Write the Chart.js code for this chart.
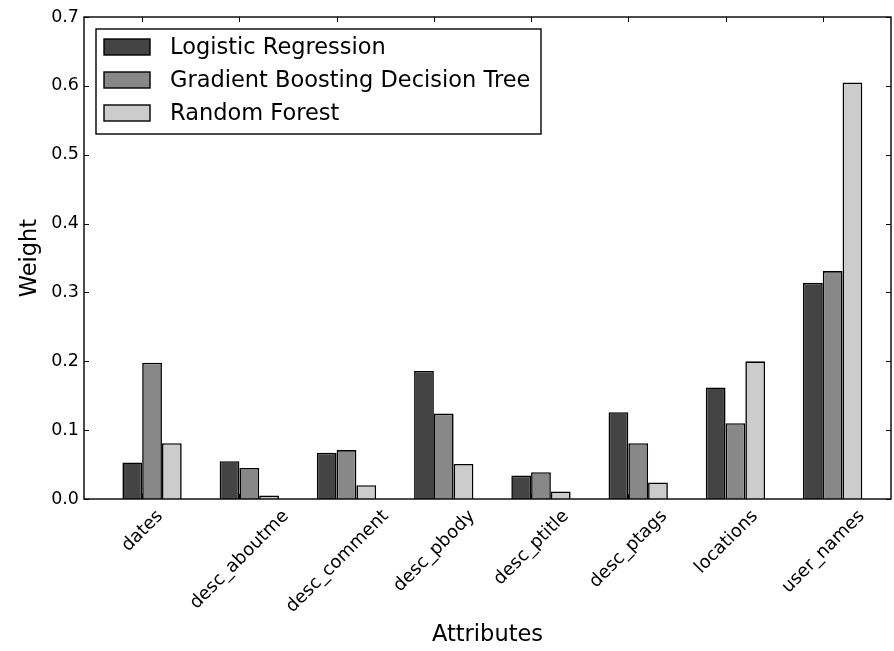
<!DOCTYPE html>
<html>
<head>
<meta charset="utf-8">
<script src="https://cdn.jsdelivr.net/npm/chart.js@4.4.1/dist/chart.umd.min.js"></script>
<style>
  body { margin: 0; background: #fff; }
  #wrap { width: 894px; height: 651px; }
</style>
</head>
<body>
<div id="wrap"><canvas id="graficoPesos"></canvas></div>
<script>
const categories = ['dates', 'desc_aboutme', 'desc_comment', 'desc_pbody', 'desc_ptitle', 'desc_ptags', 'locations', 'user_names'];
const logisticRegression = [0.053, 0.055, 0.067, 0.186, 0.034, 0.126, 0.162, 0.314];
const gradientBoosting = [0.198, 0.045, 0.071, 0.124, 0.039, 0.081, 0.110, 0.331];
const randomForest = [0.081, 0.005, 0.020, 0.051, 0.011, 0.024, 0.200, 0.605];
const seriesNames = ['Logistic Regression', 'Gradient Boosting Decision Tree', 'Random Forest'];
const seriesColors = ['#444444', '#888888', '#cccccc'];
const yTickLabels = ['0.0', '0.1', '0.2', '0.3', '0.4', '0.5', '0.6', '0.7'];

const FONT = 'DejaVu Sans';

// matplotlib-like frame, inward ticks, rotated x labels and legend
const mplPlugin = {
    id: 'mplPlugin',
    afterDatasetsDraw(chart) {
        const ctx = chart.ctx;
        const area = chart.chartArea;
        const yScale = chart.scales.y;
        const meta = chart.getDatasetMeta(0);

        ctx.save();
        ctx.strokeStyle = '#000';
        ctx.lineWidth = 1.4;
        ctx.strokeRect(area.left, area.top, area.right - area.left, area.bottom - area.top);

        ctx.lineWidth = 1;
        yTickLabels.forEach(t => {
            const y = Math.round(yScale.getPixelForValue(parseFloat(t))) + 0.5;
            ctx.beginPath();
            ctx.moveTo(area.left, y); ctx.lineTo(area.left + 5, y);
            ctx.moveTo(area.right, y); ctx.lineTo(area.right - 5, y);
            ctx.stroke();
        });

        const fs = 18;
        ctx.font = fs + 'px "' + FONT + '"';
        ctx.fillStyle = '#000';
        ctx.textAlign = 'center';
        ctx.textBaseline = 'middle';
        categories.forEach((cat, i) => {
            const bar = meta.data[i];
            const x = Math.round(bar.x + bar.width / 2) + 0.5;
            ctx.beginPath();
            ctx.moveTo(x, area.bottom); ctx.lineTo(x, area.bottom - 5);
            ctx.moveTo(x, area.top); ctx.lineTo(x, area.top + 5);
            ctx.stroke();

            const w = ctx.measureText(cat).width;
            const h = fs * 1.17;
            const half = (w + h) * Math.SQRT1_2 / 2;
            ctx.save();
            ctx.translate(x, area.bottom + 7 + half);
            ctx.rotate(-Math.PI / 4);
            ctx.fillText(cat, 0, 0);
            ctx.restore();
        });

        // legend
        const lx = area.left + 12, ly = area.top + 12;
        ctx.fillStyle = '#fff';
        ctx.fillRect(lx, ly, 445, 105);
        ctx.lineWidth = 1.4;
        ctx.strokeRect(lx, ly, 445, 105);
        ctx.font = '22.5px "' + FONT + '"';
        ctx.textAlign = 'left';
        chart.data.datasets.forEach((ds, i) => {
            const cy = ly + 18 + i * 33;
            ctx.fillStyle = ds.backgroundColor;
            ctx.fillRect(lx + 8, cy - 8, 46, 16);
            ctx.strokeStyle = '#000';
            ctx.strokeRect(lx + 8, cy - 8, 46, 16);
            ctx.fillStyle = '#000';
            ctx.fillText(ds.label, lx + 74, cy + 1);
        });
        ctx.restore();
    }
};

const ctx = document.getElementById('graficoPesos');
const allSeries = [logisticRegression, gradientBoosting, randomForest];

new Chart(ctx, {
    type: 'bar',
    data: {
        datasets: allSeries.map((values, s) => ({
            label: seriesNames[s],
            data: values.map((v, i) => ({ x: i, y: v })),
            backgroundColor: seriesColors[s],
            borderColor: '#000',
            borderWidth: 1.6,
            categoryPercentage: 0.61,
            barPercentage: 1.0
        }))
    },
    options: {
        responsive: true,
        maintainAspectRatio: false,
        animation: false,
        layout: { padding: { top: 17, right: 3, left: 0, bottom: 0 } },
        plugins: {
            legend: { display: false },
            tooltip: { enabled: false }
        },
        scales: {
            x: {
                type: 'linear',
                offset: false,
                min: -0.7,
                max: 7.6,
                grid: { display: false },
                border: { display: false },
                ticks: { display: false },
                afterBuildTicks(scale) {
                    scale.ticks = categories.map((c, i) => ({ value: i }));
                },
                title: {
                    display: true,
                    text: 'Attributes',
                    color: '#000',
                    font: { family: FONT, size: 22.5 },
                    padding: { top: 0, bottom: 2 }
                },
                afterFit(scale) { scale.height = 152; }
            },
            y: {
                min: 0,
                max: 0.7,
                grid: { display: false, drawTicks: false },
                border: { display: false },
                ticks: {
                    stepSize: 0.1,
                    padding: 5,
                    color: '#000',
                    font: { family: FONT, size: 17.5 },
                    callback: (v) => yTickLabels[Math.round(v * 10)]
                },
                title: {
                    display: true,
                    text: 'Weight',
                    color: '#000',
                    font: { family: FONT, size: 22.5 },
                    padding: { top: 17, bottom: 0 }
                },
                afterFit(scale) { scale.width = 84; }
            }
        }
    },
    plugins: [mplPlugin]
});
</script>
</body>
</html>
